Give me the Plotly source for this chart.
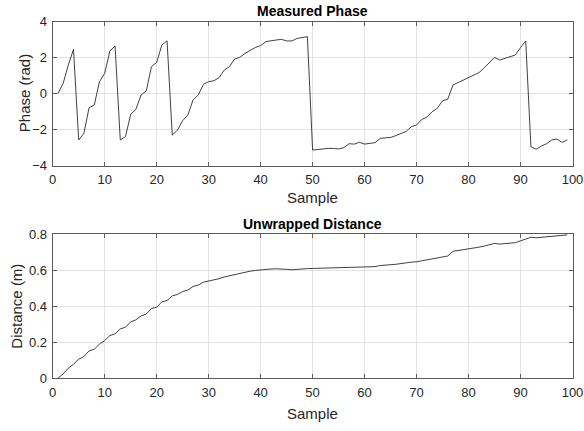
import plotly.graph_objects as go

# Sample index (1-based)
samples = list(range(1, 100))

# Wrapped phase measurement, radians
phase_rad = [
    0.00, 0.57, 1.59, 2.46, -2.57, -2.20, -0.78, -0.63, 0.67, 1.13,
    2.37, 2.65, -2.57, -2.39, -1.15, -0.87, -0.07, 0.15, 1.50, 1.74,
    2.70, 2.94, -2.30, -2.02, -1.50, -1.19, -0.35, -0.07, 0.52, 0.67,
    0.72, 0.89, 1.31, 1.50, 1.93, 2.02, 2.24, 2.39, 2.57, 2.67,
    2.89, 2.94, 2.98, 3.02, 2.93, 2.93, 3.07, 3.13, 3.17, -3.13,
    -3.09, -3.06, -3.04, -3.04, -3.07, -3.00, -2.78, -2.80, -2.70, -2.80,
    -2.76, -2.72, -2.48, -2.46, -2.43, -2.33, -2.22, -2.09, -1.83, -1.74,
    -1.43, -1.30, -1.00, -0.81, -0.39, -0.31, 0.48, 0.61, 0.74, 0.91,
    1.02, 1.17, 1.43, 1.74, 2.02, 1.87, 1.96, 2.04, 2.15, 2.56,
    2.93, -2.94, -3.09, -2.91, -2.78, -2.57, -2.52, -2.70, -2.57,
]

# Unwrapped distance, metres
distance_m = [
    0.000, 0.024, 0.056, 0.078, 0.106, 0.120, 0.152, 0.161, 0.190, 0.209,
    0.237, 0.246, 0.274, 0.283, 0.313, 0.324, 0.346, 0.356, 0.387, 0.394,
    0.424, 0.431, 0.457, 0.465, 0.481, 0.489, 0.509, 0.517, 0.533, 0.539,
    0.545, 0.552, 0.562, 0.569, 0.577, 0.583, 0.589, 0.594, 0.598, 0.602,
    0.604, 0.606, 0.607, 0.607, 0.604, 0.602, 0.605, 0.607, 0.608, 0.609,
    0.610, 0.611, 0.612, 0.612, 0.612, 0.613, 0.617, 0.617, 0.619, 0.618,
    0.619, 0.619, 0.625, 0.626, 0.628, 0.632, 0.636, 0.641, 0.644, 0.646,
    0.652, 0.656, 0.662, 0.667, 0.675, 0.678, 0.704, 0.708, 0.713, 0.718,
    0.722, 0.727, 0.733, 0.741, 0.748, 0.744, 0.747, 0.749, 0.752, 0.762,
    0.770, 0.782, 0.779, 0.781, 0.783, 0.787, 0.790, 0.793, 0.795,
]

x_ticks = [0, 10, 20, 30, 40, 50, 60, 70, 80, 90, 100]
phase_ticks = [-4, -2, 0, 2, 4]
dist_ticks = [0, 0.2, 0.4, 0.6, 0.8]
dist_tick_text = ["0", "0.2", "0.4", "0.6", "0.8"]

W, H = 584, 431
FONT = "Liberation Sans, Arial, sans-serif"
TXT = "#262626"
LINE = "#2b2b2b"

# Axes boxes in pixels (left, right, top, bottom)
ax_l, ax_r = 52.7, 572.5
top_t, top_b = 21.7, 165.7
bot_t, bot_b = 234.0, 378.3


def px_x(v):
    return v / W


def px_y(v):
    return 1 - v / H


fig = go.Figure()
fig.add_trace(go.Scatter(x=samples, y=phase_rad, mode="lines",
                         line=dict(color=LINE, width=0.9),
                         xaxis="x", yaxis="y", showlegend=False))
fig.add_trace(go.Scatter(x=samples, y=distance_m, mode="lines",
                         line=dict(color=LINE, width=0.9),
                         xaxis="x2", yaxis="y2", showlegend=False))

axis_common = dict(
    showline=True, linecolor="#5a5a5a", linewidth=1, mirror="ticks",
    ticks="inside", ticklen=4, tickwidth=1, tickcolor="#5a5a5a",
    showgrid=True, gridcolor="#e3e3e3", gridwidth=1, zeroline=False,
    automargin=False,
    tickfont=dict(family=FONT, size=13, color=TXT),
)

fig.update_layout(
    width=W, height=H,
    margin=dict(l=0, r=0, t=0, b=0, autoexpand=False),
    paper_bgcolor="white", plot_bgcolor="white",
    xaxis=dict(domain=[px_x(ax_l), px_x(ax_r)], range=[0, 100],
               tickvals=x_ticks, anchor="y", ticklabelstandoff=2, **axis_common),
    yaxis=dict(domain=[px_y(top_b), px_y(top_t)], range=[-4, 4],
               tickvals=phase_ticks, anchor="x", ticklabelstandoff=2, **axis_common),
    xaxis2=dict(domain=[px_x(ax_l), px_x(ax_r)], range=[0, 100],
                tickvals=x_ticks, anchor="y2", ticklabelstandoff=2, **axis_common),
    yaxis2=dict(domain=[px_y(bot_b), px_y(bot_t)], range=[0, 0.8],
                tickvals=dist_ticks, ticktext=dist_tick_text, anchor="x2",
                ticklabelstandoff=2, **axis_common),
)

cx = px_x((ax_l + ax_r) / 2)
annots = [
    dict(text="<b>Measured Phase</b>", x=cx, y=px_y(11), size=14, angle=0),
    dict(text="<b>Unwrapped Distance</b>", x=cx, y=px_y(223.5), size=14, angle=0),
    dict(text="Sample", x=cx, y=px_y(198), size=15, angle=0),
    dict(text="Sample", x=cx, y=px_y(413), size=15, angle=0),
    dict(text="Phase (rad)", x=px_x(24.5), y=px_y((top_t + top_b) / 2), size=15, angle=-90),
    dict(text="Distance (m)", x=px_x(16.5), y=px_y((bot_t + bot_b) / 2), size=15, angle=-90),
]
for a in annots:
    fig.add_annotation(text=a["text"], x=a["x"], y=a["y"], xref="paper", yref="paper",
                       xanchor="center", yanchor="middle", showarrow=False,
                       textangle=a["angle"],
                       font=dict(family=FONT, size=a["size"], color="#000000" if a["angle"] == 0 and "<b>" in a["text"] else TXT))

fig.write_html("out.html")
